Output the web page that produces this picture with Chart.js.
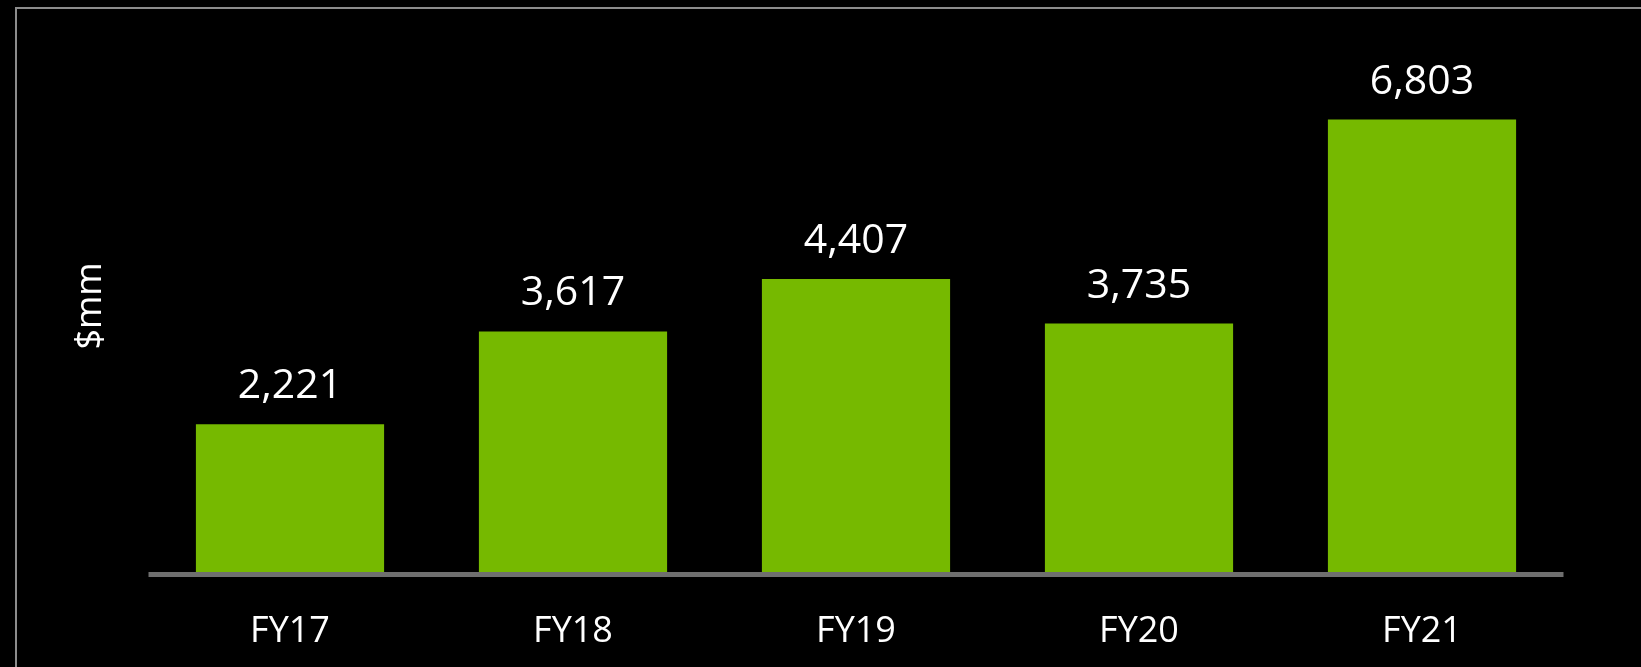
<!DOCTYPE html>
<html>
<head>
<meta charset="utf-8">
<title>Annual figures, FY17–FY21</title>
<script src="https://cdn.jsdelivr.net/npm/chart.js@4/dist/chart.umd.min.js"></script>
<style>
  html, body { margin: 0; padding: 0; background: #000; }
  #wrap { position: relative; width: 1641px; height: 667px; overflow: hidden; background: #000; }
  #frame { position: absolute; left: 15px; top: 7px; right: -10px; bottom: -10px;
           border-left: 2px solid #8c8c8c; border-top: 2px solid #8c8c8c; pointer-events: none; }
  canvas { position: absolute; left: 0; top: 0; }
</style>
</head>
<body>
<div id="wrap">
  <canvas id="chart" width="1641" height="667"></canvas>
  <div id="frame"></div>
</div>
<script>
// Fiscal years and values in $mm
const categories = ['FY17', 'FY18', 'FY19', 'FY20', 'FY21'];
const values = [2221, 3617, 4407, 3735, 6803];
const axisTitle = '$mm';

const FONT = '"Open Sans", "DejaVu Sans", sans-serif';
const GREEN = '#76b900';

// Value label above each bar
const valueLabels = {
  id: 'valueLabels',
  afterDatasetsDraw(chart) {
    const ctx = chart.ctx;
    const meta = chart.getDatasetMeta(0);
    ctx.save();
    ctx.fillStyle = '#ffffff';
    ctx.font = '41px ' + FONT;
    ctx.textAlign = 'center';
    ctx.textBaseline = 'alphabetic';
    meta.data.forEach((bar, i) => {
      const v = chart.data.datasets[0].data[i];
      ctx.fillText(v.toLocaleString('en-US'), bar.x, bar.y - 26);
    });
    ctx.restore();
  }
};

// Thick grey baseline under the bars
const baseline = {
  id: 'baseline',
  afterDatasetsDraw(chart) {
    const { ctx, chartArea, scales } = chart;
    const y0 = Math.round(scales.y.getPixelForValue(0));
    ctx.save();
    ctx.fillStyle = '#6f6f6f';
    ctx.fillRect(chartArea.left, y0, chartArea.right - chartArea.left, 5);
    ctx.restore();
  }
};

new Chart(document.getElementById('chart'), {
  type: 'bar',
  data: {
    labels: categories,
    datasets: [{
      data: values,
      backgroundColor: GREEN,
      borderWidth: 0,
      categoryPercentage: 1.0,
      barPercentage: 0.665
    }]
  },
  options: {
    responsive: false,
    animation: false,
    layout: { padding: { left: 65, right: 77.5, top: 40, bottom: 0 } },
    plugins: {
      legend: { display: false },
      tooltip: { enabled: false }
    },
    scales: {
      x: {
        grid: { display: false, drawTicks: false },
        border: { display: false },
        ticks: {
          color: '#ffffff',
          padding: 38.5,
          font: { family: FONT, size: 36 }
        },
        afterFit(scale) { scale.height = 95; }
      },
      y: {
        min: 0,
        max: 8000,
        grid: { display: false, drawTicks: false },
        border: { display: false },
        ticks: { display: false },
        title: {
          display: true,
          text: axisTitle,
          color: '#ffffff',
          padding: { top: 4, bottom: 36.3 },
          font: { family: FONT, size: 36 }
        }
      }
    }
  },
  plugins: [valueLabels, baseline]
});
</script>
</body>
</html>
